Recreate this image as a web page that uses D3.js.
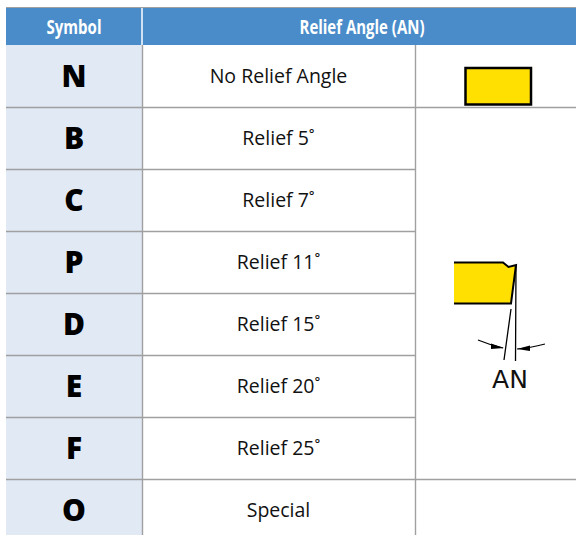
<!DOCTYPE html>
<html>
<head>
<meta charset="utf-8">
<script src="https://cdn.jsdelivr.net/npm/d3@7"></script>
<style>
  html, body { margin: 0; padding: 0; background: white; }
  svg { display: block; }
</style>
</head>
<body>
<div id="chart"></div>
<script>
const symbols = ["N", "B", "C", "P", "D", "E", "F", "O"]
const reliefLabels = ["No Relief Angle", "Relief 5˚", "Relief 7˚", "Relief 11˚", "Relief 15˚", "Relief 20˚", "Relief 25˚", "Special"]
const headers = ["Symbol", "Relief Angle (AN)"]
const diagramLabel = "AN"

const width = 576
const height = 535
const lineColor = "#a0a0a0"
const yellow = "#ffe000"

const x = d3.scaleOrdinal().domain(["left", "sym", "desc", "pic", "right"]).range([6, 142, 415, 576, 576])
const y = d3.scaleBand().domain(d3.range(symbols.length)).range([45, 541])

const svg = d3.select("#chart").append("svg")
  .attr("width", width)
  .attr("height", height)
  .attr("viewBox", [0, 0, width, height])

// header band
svg.append("rect")
  .attr("x", x("left")).attr("y", 7)
  .attr("width", width - x("left")).attr("height", 38)
  .attr("fill", "#4a8cca")
svg.append("line")
  .attr("x1", x("left")).attr("x2", width).attr("y1", 7.5).attr("y2", 7.5)
  .attr("stroke", lineColor).attr("stroke-width", 1.2)
svg.append("line")
  .attr("x1", x("sym")).attr("x2", x("sym")).attr("y1", 8).attr("y2", 45)
  .attr("stroke", "white").attr("stroke-width", 1.5)

// no condensed font here, so squeeze the bold one to the header widths
svg.selectAll("text.head")
  .data(headers)
  .join("text")
  .attr("class", "head")
  .attr("x", (d, i) => i == 0 ? 74 : 362)
  .attr("y", 34)
  .attr("text-anchor", "middle")
  .attr("textLength", (d, i) => i == 0 ? 55 : 125)
  .attr("lengthAdjust", "spacingAndGlyphs")
  .attr("font-family", "'Open Sans', sans-serif")
  .attr("font-weight", "bold")
  .attr("font-size", 20)
  .attr("fill", "white")
  .text(d => d)

// symbol column
svg.selectAll("rect.sym")
  .data(symbols)
  .join("rect")
  .attr("class", "sym")
  .attr("x", x("left"))
  .attr("y", (d, i) => y(i))
  .attr("width", x("sym") - x("left"))
  .attr("height", y.bandwidth())
  .attr("fill", "#e1e9f5")

// row lines, the picture cell spans rows B..F so only some go all the way
svg.selectAll("line.row")
  .data(symbols.slice(1))
  .join("line")
  .attr("class", "row")
  .attr("x1", x("left"))
  .attr("x2", d => (d == "B" || d == "O") ? width : x("desc"))
  .attr("y1", d => y(symbols.indexOf(d)) + 0.5)
  .attr("y2", d => y(symbols.indexOf(d)) + 0.5)
  .attr("stroke", lineColor)
  .attr("stroke-width", 1.4)

svg.selectAll("line.col")
  .data(["sym", "desc"])
  .join("line")
  .attr("class", "col")
  .attr("x1", d => x(d) + 0.5)
  .attr("x2", d => x(d) + 0.5)
  .attr("y1", 45)
  .attr("y2", height)
  .attr("stroke", lineColor)
  .attr("stroke-width", 1.4)

svg.selectAll("text.sym")
  .data(symbols)
  .join("text")
  .attr("class", "sym")
  .attr("x", 74)
  .attr("y", (d, i) => y(i) + y.bandwidth() / 2 + 11)
  .attr("text-anchor", "middle")
  .attr("font-family", "'Noto Sans', 'Open Sans', sans-serif")
  .attr("font-weight", 900)
  .attr("font-size", 30)
  .attr("fill", "black")
  .text(d => d)

svg.selectAll("text.desc")
  .data(reliefLabels)
  .join("text")
  .attr("class", "desc")
  .attr("x", 278.5)
  .attr("y", (d, i) => y(i) + y.bandwidth() / 2 + 7)
  .attr("text-anchor", "middle")
  .attr("font-family", "'Open Sans', 'Noto Sans', sans-serif")
  .attr("font-size", 19.5)
  .attr("fill", "#111")
  .text(d => d)

// no relief insert
svg.append("rect")
  .attr("x", 465.5).attr("y", 68)
  .attr("width", 65.5).attr("height", 36.5)
  .attr("fill", yellow)
  .attr("stroke", "black")
  .attr("stroke-width", 2.5)

// relief insert drawing
const pic = svg.append("g")
pic.append("path")
  .attr("d", "M454,262.5 L503,262.5 L508.5,267 L516,265 L511,303.5 L454,303.5 Z")
  .attr("fill", yellow)
pic.append("path")
  .attr("d", "M454,262.5 L503,262.5 L508.5,267 L516,265 L511,303.5 L454,303.5")
  .attr("fill", "none")
  .attr("stroke", "black")
  .attr("stroke-width", 2)
pic.append("path")
  .attr("d", "M511,309 L504,360 M516,265 L515.5,361")
  .attr("fill", "none")
  .attr("stroke", "black")
  .attr("stroke-width", 1.3)
pic.append("path")
  .attr("d", "M478,340 Q490,345 503,348 M545,344 Q530,348 517,349")
  .attr("fill", "none")
  .attr("stroke", "black")
  .attr("stroke-width", 1.2)
pic.append("path")
  .attr("d", "M504,348 L491,343.5 L491,349 Z M517,349 L530,345.5 L530,351 Z")
  .attr("fill", "black")
pic.append("text")
  .attr("x", 510)
  .attr("y", 388)
  .attr("text-anchor", "middle")
  .attr("font-family", "'DejaVu Sans', sans-serif")
  .attr("font-size", 25)
  .attr("fill", "#111")
  .text(diagramLabel)
</script>
</body>
</html>
